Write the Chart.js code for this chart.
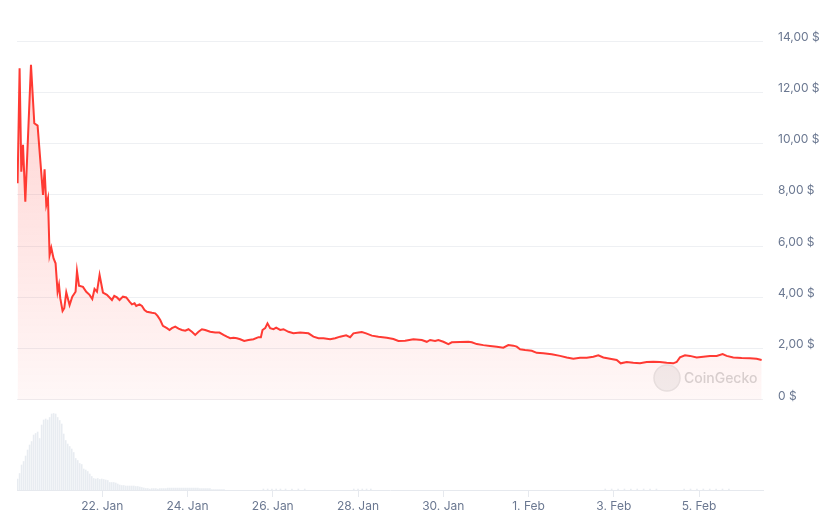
<!DOCTYPE html>
<html>
<head>
<meta charset="utf-8">
<script src="https://cdn.jsdelivr.net/npm/chart.js@4.4.0/dist/chart.umd.min.js"></script>
<style>
  body { margin: 0; background: #fff; }
  #wrap { width: 840px; height: 527px; }
</style>
</head>
<body>
<div id="wrap"><canvas id="chart" width="840" height="527"></canvas></div>
<script>
// x values are days since 20 Jan 00:00
const priceDays = [
  0.014, 0.061, 0.101, 0.141, 0.195, 0.328, 0.406, 0.483, 0.610, 0.647, 0.687, 0.727, 0.764, 0.804,
  0.858, 0.905, 0.952, 0.985, 1.015, 1.069, 1.109, 1.156, 1.233, 1.297, 1.374, 1.407, 1.454, 1.547,
  1.625, 1.702, 1.766, 1.819, 1.876, 1.937, 2.016, 2.110, 2.227, 2.281, 2.345, 2.406, 2.485, 2.563,
  2.640, 2.696, 2.757, 2.797, 2.874, 2.931, 2.992, 3.048, 3.165, 3.243, 3.297, 3.360, 3.423, 3.517,
  3.578, 3.634, 3.712, 3.789, 3.869, 3.946, 4.023, 4.103, 4.181, 4.258, 4.338, 4.415, 4.532, 4.650,
  4.750, 4.844, 4.924, 5.001, 5.079, 5.158, 5.236, 5.330, 5.430, 5.548, 5.665, 5.721, 5.759, 5.822,
  5.876, 5.939, 6.017, 6.080, 6.174, 6.251, 6.368, 6.485, 6.642, 6.837, 6.954, 7.072, 7.189, 7.346,
  7.463, 7.580, 7.721, 7.815, 7.892, 8.009, 8.089, 8.190, 8.324, 8.478, 8.675, 8.830, 8.947, 9.105,
  9.299, 9.496, 9.613, 9.691, 9.808, 9.885, 10.002, 10.120, 10.199, 10.394, 10.589, 10.669, 10.786,
  10.940, 11.097, 11.255, 11.409, 11.526, 11.644, 11.723, 11.801, 11.918, 12.075, 12.192, 12.347,
  12.544, 12.739, 12.896, 13.051, 13.208, 13.365, 13.520, 13.637, 13.755, 13.911, 14.068, 14.162,
  14.303, 14.457, 14.614, 14.771, 14.926, 15.083, 15.240, 15.395, 15.475, 15.552, 15.670, 15.787,
  15.944, 16.099, 16.256, 16.413, 16.553, 16.647, 16.802, 16.999, 17.194, 17.351, 17.468
];
const priceValues = [
  8.45, 12.94, 8.9, 9.95, 7.73, 13.07, 10.79, 10.7, 8.0, 9.0, 7.6, 7.87, 5.65, 5.94,
  5.52, 5.33, 4.22, 4.49, 3.97, 3.47, 3.58, 4.2, 3.7, 4.03, 4.22, 5.03, 4.46, 4.41,
  4.22, 4.1, 3.94, 4.33, 4.22, 4.88, 4.19, 4.1, 3.9, 4.06, 4.0, 3.9, 4.03, 4.0,
  3.84, 3.73, 3.77, 3.67, 3.73, 3.67, 3.51, 3.44, 3.4, 3.38, 3.28, 3.12, 2.89, 2.8,
  2.73, 2.8, 2.86, 2.78, 2.73, 2.7, 2.76, 2.66, 2.54, 2.66, 2.76, 2.73, 2.66, 2.63,
  2.63, 2.54, 2.47, 2.41, 2.43, 2.41, 2.37, 2.3, 2.34, 2.37, 2.45, 2.45, 2.73, 2.8,
  2.99, 2.8, 2.76, 2.82, 2.73, 2.76, 2.66, 2.6, 2.63, 2.6, 2.47, 2.41, 2.41, 2.37,
  2.41, 2.47, 2.52, 2.45, 2.6, 2.63, 2.65, 2.6, 2.51, 2.47, 2.43, 2.38, 2.3, 2.31,
  2.37, 2.34, 2.27, 2.34, 2.3, 2.34, 2.27, 2.18, 2.25, 2.26, 2.27, 2.25, 2.18,
  2.14, 2.11, 2.08, 2.04, 2.14, 2.12, 2.08, 1.98, 1.95, 1.92, 1.84, 1.82,
  1.78, 1.72, 1.66, 1.61, 1.65, 1.65, 1.69, 1.74, 1.66, 1.61, 1.56, 1.43,
  1.48, 1.45, 1.43, 1.48, 1.49, 1.48, 1.45, 1.43, 1.48, 1.66, 1.74, 1.72,
  1.66, 1.69, 1.72, 1.72, 1.79, 1.72, 1.66, 1.64, 1.63, 1.61, 1.56
];

// volume (M $), one bar per ~1.1 h from the start
const volumeStart = 0.014;
const volumeStep = 0.047;
const volumeValues = [
  22, 33, 50, 57, 68, 80, 90, 97, 110, 113, 116, 103, 130, 140, 142, 140, 145, 152, 153, 152,
  145, 139, 132, 112, 99, 92, 87, 82, 75, 63, 59, 53, 51, 42, 40, 37, 32, 27, 23, 22,
  23, 21, 22, 21, 20, 19, 15, 15, 15, 14, 12, 10, 9, 9, 8, 8, 8, 8, 8, 7,
  7, 6, 5, 4, 3, 3, 2, 3, 3, 3, 2, 3, 3, 3, 3, 4, 4, 4, 4, 4,
  4, 4, 4, 4, 4, 4, 4, 4, 4, 4, 4, 3, 3, 3, 3, 3, 3, 1, 1, 1,
  1, 1, 1, 1
];
// small later volume bars
const lateVolumeDays = [5.78, 5.88, 5.98, 6.08, 6.18, 6.3, 6.45, 6.6, 6.75, 7.9, 8.0, 8.1, 8.2, 8.3,
  13.8, 13.95, 14.1, 14.25, 14.4, 14.55, 14.7, 14.85, 15.0, 15.65, 15.8, 15.95, 16.1, 16.25, 16.4, 16.55, 16.7];
const lateVolumeValues = [2, 2, 2, 2, 2, 2, 2, 2, 2, 2, 2, 2, 2, 2,
  2, 2, 2, 2, 2, 2, 2, 2, 2, 2, 2, 2, 2, 2, 2, 2, 2];

const tickDays = [2, 4, 6, 8, 10, 12, 14, 16];
const tickLabels = ['22. Jan', '24. Jan', '26. Jan', '28. Jan', '30. Jan', '1. Feb', '3. Feb', '5. Feb'];
const priceTicks = [0, 2, 4, 6, 8, 10, 12, 14];

const priceData = priceDays.map((d, i) => ({ x: d, y: priceValues[i] }));
const volumeData = volumeValues.map((v, i) => ({ x: volumeStart + i * volumeStep, y: v }))
  .concat(lateVolumeDays.map((d, i) => ({ x: d, y: lateVolumeValues[i] })));

const labelColor = '#6b7891';
const gridColor = '#eef0f3';

const watermark = {
  id: 'watermark',
  beforeDatasetsDraw(chart) {
    const ctx = chart.ctx;
    const area = chart.chartArea;
    const y0 = chart.scales.y.getPixelForValue(0);
    ctx.save();
    ctx.fillStyle = '#f1f1f1';
    ctx.strokeStyle = '#e6e6e6';
    ctx.lineWidth = 1.5;
    ctx.beginPath();
    ctx.arc(area.right - 96, y0 - 22, 13, 0, Math.PI * 2);
    ctx.fill();
    ctx.stroke();
    ctx.fillStyle = '#d6d6d6';
    ctx.font = '500 14px Inter';
    ctx.textBaseline = 'middle';
    ctx.fillText('CoinGecko', area.right - 79, y0 - 21);
    ctx.restore();
  }
};

new Chart(document.getElementById('chart'), {
  type: 'line',
  data: {
    datasets: [
      {
        label: 'Price',
        data: priceData,
        borderColor: '#ff3a33',
        borderWidth: 2,
        pointRadius: 0,
        tension: 0,
        fill: 'origin',
        backgroundColor: (c) => {
          const area = c.chart.chartArea;
          if (!area) return 'rgba(255,58,51,0.1)';
          const y0 = c.chart.scales.y.getPixelForValue(0);
          const g = c.chart.ctx.createLinearGradient(0, area.top, 0, y0);
          g.addColorStop(0, 'rgba(255,58,51,0.24)');
          g.addColorStop(1, 'rgba(255,58,51,0.04)');
          return g;
        },
        yAxisID: 'y',
        order: 0
      },
      {
        type: 'bar',
        label: 'Volume',
        data: volumeData,
        backgroundColor: '#e8ecf1',
        barThickness: 1,
        yAxisID: 'yv',
        order: 1
      }
    ]
  },
  options: {
    responsive: false,
    animation: false,
    layout: { padding: { top: 41, left: 17, right: 0, bottom: 0 } },
    plugins: {
      legend: { display: false },
      tooltip: { enabled: false }
    },
    scales: {
      x: {
        type: 'linear',
        min: 0,
        max: 17.5,
        offset: false,
        afterBuildTicks: (scale) => { scale.ticks = tickDays.map(v => ({ value: v })); },
        afterFit: (scale) => { scale.height = 37; },
        ticks: {
          color: labelColor,
          font: { family: 'Inter', size: 12 },
          padding: 2,
          maxRotation: 0,
          autoSkip: false,
          callback: (v) => tickLabels[tickDays.indexOf(v)]
        },
        grid: { offset: false, drawOnChartArea: false, drawTicks: true, tickLength: 7, color: '#e6e9ee' },
        border: { color: '#e6e9ee' }
      },
      y: {
        position: 'right',
        min: -3.51,
        max: 14,
        afterBuildTicks: (scale) => { scale.ticks = priceTicks.map(v => ({ value: v })); },
        afterFit: (scale) => { scale.width = 77; },
        ticks: {
          color: labelColor,
          font: { family: 'Inter', size: 12 },
          padding: 15,
          labelOffset: -4,
          callback: (v) => v === 0 ? '0 $' : v.toFixed(2).replace('.', ',') + ' $'
        },
        grid: { color: gridColor, drawTicks: false },
        border: { display: false }
      },
      yv: {
        display: false,
        min: 0,
        max: 898
      }
    }
  },
  plugins: [watermark]
});
</script>
</body>
</html>
